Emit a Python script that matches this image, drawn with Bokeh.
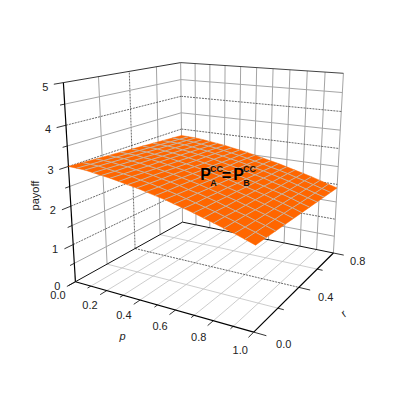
import numpy as np
from bokeh.plotting import figure
from bokeh.models import Range1d
from bokeh.core.properties import value
from bokeh.embed import file_html
from bokeh.resources import INLINE

# --- data ---
p_vals = [round(0.05 * i, 2) for i in range(21)]
r_vals = [round(0.08 * i, 2) for i in range(11)]
payoff = [
 [3.00,2.99,2.98,2.95,2.92,2.89,2.85,2.81,2.77,2.72,2.67,2.62,2.56,2.50,2.44,2.37,2.30,2.23,2.16,2.08,2.00],
 [2.98,2.97,2.96,2.93,2.90,2.87,2.84,2.79,2.75,2.70,2.65,2.60,2.54,2.48,2.42,2.36,2.29,2.22,2.14,2.07,1.99],
 [2.96,2.95,2.94,2.91,2.89,2.85,2.82,2.78,2.73,2.69,2.64,2.58,2.53,2.47,2.41,2.34,2.27,2.21,2.13,2.06,1.98],
 [2.94,2.93,2.92,2.89,2.87,2.83,2.80,2.76,2.72,2.67,2.62,2.57,2.51,2.45,2.39,2.33,2.26,2.19,2.12,2.05,1.97],
 [2.92,2.91,2.90,2.87,2.85,2.82,2.78,2.74,2.70,2.65,2.60,2.55,2.50,2.44,2.38,2.32,2.25,2.18,2.11,2.04,1.96],
 [2.90,2.89,2.88,2.85,2.83,2.80,2.76,2.72,2.68,2.63,2.59,2.54,2.48,2.42,2.36,2.30,2.24,2.17,2.10,2.03,1.95],
 [2.88,2.87,2.86,2.83,2.81,2.78,2.74,2.70,2.66,2.62,2.57,2.52,2.47,2.41,2.35,2.29,2.22,2.16,2.09,2.01,1.94],
 [2.86,2.85,2.84,2.82,2.79,2.76,2.72,2.69,2.65,2.60,2.55,2.50,2.45,2.39,2.34,2.27,2.21,2.14,2.07,2.00,1.93],
 [2.84,2.83,2.82,2.80,2.77,2.74,2.71,2.67,2.63,2.58,2.54,2.49,2.43,2.38,2.32,2.26,2.20,2.13,2.06,1.99,1.92],
 [2.82,2.81,2.80,2.78,2.75,2.72,2.69,2.65,2.61,2.57,2.52,2.47,2.42,2.36,2.31,2.25,2.18,2.12,2.05,1.98,1.91],
 [2.80,2.79,2.78,2.76,2.73,2.70,2.67,2.63,2.59,2.55,2.50,2.45,2.40,2.35,2.29,2.23,2.17,2.11,2.04,1.97,1.90],
]
p_ticks = [0.0, 0.2, 0.4, 0.6, 0.8, 1.0]
r_ticks = [0.0, 0.4, 0.8]
z_ticks = [0, 1, 2, 3, 4, 5]
FILL = "#FF6600"
MESH = "#C8B4A0"
FONT = value("Liberation Sans")

# --- projection calibrated to the reference's box corners ---
world = [(0,0,0),(1,0,0),(1,.8,0),(0,.8,0),(0,0,5),(0,.8,5),(1,.8,5)]
screen = [(75,281),(253,332),(333,252),(182,222),(63,82),(180,62),(343,73)]
A, b = [], []
for (X,Y,Z),(u,v) in zip(world, screen):
    A.append([X,Y,Z,1,0,0,0,0,-u*X,-u*Y,-u*Z]); b.append(u)
    A.append([0,0,0,0,X,Y,Z,1,-v*X,-v*Y,-v*Z]); b.append(v)
sol = np.linalg.lstsq(np.array(A,float), np.array(b,float), rcond=None)[0]
M = np.append(sol, 1.0).reshape(3,4)
def proj(x, y, z):
    h = M @ np.array([x,y,z,1.0])
    return h[0]/h[2], h[1]/h[2]

p = figure(width=415, height=415, x_range=Range1d(0,415), y_range=Range1d(415,0),
           output_backend="svg", toolbar_location=None, min_border=0)
p.axis.visible = False
p.grid.visible = False
p.outline_line_color = None
p.background_fill_color = "white"

def seg(a, b, color="#999999", w=1, dash="solid"):
    x0,y0 = proj(*a); x1,y1 = proj(*b)
    p.line([x0,x1],[y0,y1],line_color=color,line_width=w,line_dash=dash)

GRID="#a4a4a4"; FLOOR="#c0c0c0"; DARK="#444444"; DASH="2 1"
pgrid=[round(.1*i,1) for i in range(1,10)]
rgrid=[.2,.4,.6]
zgrid=[round(.5*i,1) for i in range(1,10)]
# floor
for v in pgrid:
    seg((v,0,0),(v,.8,0),FLOOR,0.8)
for v in rgrid:
    if v==.4: seg((0,v,0),(1,v,0),DARK,0.8,DASH)
    else: seg((0,v,0),(1,v,0),FLOOR,0.8)
# wall at r max
for v in pgrid+[1.0]:
    seg((v,.8,0),(v,.8,5),GRID,1)
for v in zgrid:
    if v==int(v): seg((0,.8,v),(1,.8,v),DARK,0.8,DASH)
    else: seg((0,.8,v),(1,.8,v),GRID,1)
# wall at p=0
for v in rgrid+[.8]:
    if v==.4: seg((0,v,0),(0,v,5),DARK,0.8,DASH)
    else: seg((0,v,0),(0,v,5),GRID,1)
for v in zgrid:
    if v==int(v): seg((0,0,v),(0,.8,v),DARK,0.8,DASH)
    else: seg((0,0,v),(0,.8,v),GRID,1)
# box edges
seg((0,0,5),(0,.8,5),"#333333",1)
seg((0,.8,5),(1,.8,5),"#444444",1)
seg((0,.8,0),(0,0,0),"#111111",1)
seg((0,.8,0),(1,.8,0),"#111111",1)
seg((0,0,0),(0,0,5),"#000000",1.2)
seg((0,0,0),(1,0,0),"#000000",1.2)
seg((1,0,0),(1,.8,0),"#000000",1.2)
# ticks
for i in range(11):
    v=i/10
    seg((v,0,0),(v,-0.04 if i%2==0 else -0.02,0),"#000000",0.8)
for i,v in enumerate([0,.2,.4,.6,.8]):
    seg((1,v,0),(1.06 if i%2==0 else 1.03,v,0),"#000000",0.8)
for i in range(11):
    v=i/2
    seg((0,0,v),(0,-0.05 if i%2==0 else -0.025,v),"#000000",0.8)

# surface
xs=[];ys=[]
Z=np.array(payoff)
pts=[[proj(p_vals[j],r_vals[i],Z[i,j]) for j in range(len(p_vals))] for i in range(len(r_vals))]
for i in range(len(r_vals)-1,0,-1):
    for j in range(len(p_vals)-1):
        q=[pts[i][j],pts[i][j+1],pts[i-1][j+1],pts[i-1][j]]
        xs.append([c[0] for c in q]); ys.append([c[1] for c in q])
p.patches(xs,ys,fill_color=FILL,line_color=FILL,line_width=0.5)
for i in range(1,len(r_vals)-1):
    p.line([c[0] for c in pts[i]],[c[1] for c in pts[i]],line_color=MESH,line_width=1)
for j in range(1,len(p_vals)-1):
    p.line([pts[i][j][0] for i in range(len(r_vals))],[pts[i][j][1] for i in range(len(r_vals))],line_color=MESH,line_width=1)

def txt(x,y,s,size="11px",style="normal",angle=0,col="#222222"):
    p.text([x],[y],text=[s],text_font=FONT,text_font_size=size,text_font_style=style,
           text_align="center",text_baseline="middle",text_color=col,angle=angle)

for v in p_ticks:
    x,y=proj(v,-0.1,0)
    txt(x,y+4,f"{v:.1f}")
for v in r_ticks:
    x,y=proj(1.14,v,0)
    txt(x,y+3,f"{v:.1f}")
for v in z_ticks:
    x,y=proj(0,0,v)
    txt(x-18,y+4,str(v))
txt(34,195,"payoff",angle=np.pi/2)
txt(122,335,"p",style="italic")
txt(343,313,"r",style="italic",angle=0.8)

txt(205,174,"P","16px","bold",col="#000000")
txt(216,168,"CC","9px","bold",col="#111111")
txt(213,182,"A","9px","bold",col="#111111")
txt(226,175,"=","16px","bold",col="#000000")
txt(238,174,"P","16px","bold",col="#000000")
txt(249,168,"CC","9px","bold",col="#111111")
txt(246,182,"B","9px","bold",col="#111111")

open("out.html","w").write(file_html(p,INLINE))
